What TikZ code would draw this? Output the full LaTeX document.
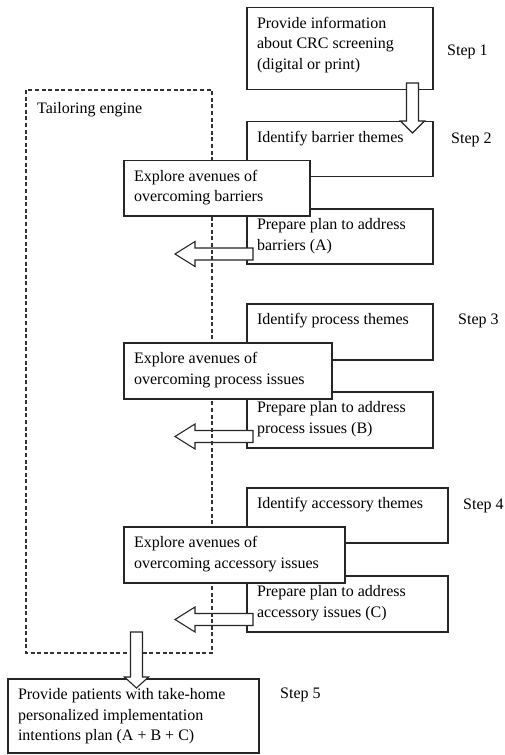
\documentclass[tikz,border=0pt]{standalone}
\usepackage{fontspec}
\setmainfont{Liberation Serif}
\usetikzlibrary{calc}
\tikzset{
  box/.style={draw=black!85, line width=1.1pt, fill=white, inner xsep=10pt, inner ysep=0pt, anchor=north west, outer sep=0pt},
  arr/.style={draw=black!85, line width=1.1pt, fill=white, line join=miter},
  engine/.style={draw=black!80, line width=1.1pt, dash pattern=on 4pt off 2.6pt},
  steplabel/.style={anchor=base west, inner sep=0pt, font=\fontsize{16}{20.5}\selectfont},
}
\newcommand\boxtext[3]{\parbox[c][#2pt][t]{#1pt}{\raggedright\fontsize{16}{20.5}\selectfont\rule{0pt}{20.5pt}#3}}
\newcommand\leftblockarrow[3]{% tail x, tip x, centre y
  \draw[arr] (#1,#3-6) -- (#2+20,#3-6) -- (#2+20,#3-12.5) -- (#2,#3) -- (#2+20,#3+12.5) -- (#2+20,#3+6) -- (#1,#3+6) -- cycle;}
\newcommand\downblockarrow[4]{% centre x, top y, head base y, tip y
  \draw[arr] (#1-6,#2) -- (#1-6,#3) -- (#1-12,#3) -- (#1,#4) -- (#1+12,#3) -- (#1+6,#3) -- (#1+6,#2) -- cycle;}
\begin{document}
\begin{tikzpicture}[x=1pt,y=-1pt]
\useasboundingbox (0,0) rectangle (505,755);
% main column boxes
\node[box] (b1) at (247,7.5) {\boxtext{166}{82}{Provide information\\about CRC screening\\(digital or print)}};
\node[box] (i1) at (247,121.5) {\boxtext{166}{55}{Identify barrier themes}};
\node[box] (p1) at (247,209) {\boxtext{166}{55}{Prepare plan to address\\barriers (A)}};
\node[box] (i2) at (247,304) {\boxtext{166}{56}{Identify process themes}};
\node[box] (p2) at (247,392) {\boxtext{166}{56}{Prepare plan to address\\process issues (B)}};
\node[box] (i3) at (247,488) {\boxtext{181}{55}{Identify accessory themes}};
\node[box] (p3) at (247,576) {\boxtext{181}{56}{Prepare plan to address\\accessory issues (C)}};
\node[box] (f) at (8,679) {\boxtext{231}{74}{Provide patients with take-home\\personalized implementation\\intentions plan (A + B + C)}};
% step labels
\node[steplabel] (s1) at (447,55) {Step 1};
\node[steplabel] (s2) at (451,143) {Step 2};
\node[steplabel] (s3) at (458,324) {Step 3};
\node[steplabel] (s4) at (463,509) {Step 4};
\node[steplabel] (s5) at (280,698) {Step 5};
% output arrows
\leftblockarrow{253}{175}{254}
\leftblockarrow{253}{175}{436.5}
\leftblockarrow{253}{175}{619.5}
% tailoring engine
\draw[engine] (26,90) rectangle (212,653);
\node[steplabel] (te) at (37,113) {Tailoring engine};
% explore boxes
\node[box] (e1) at (124,160.5) {\boxtext{166}{55.5}{Explore avenues of\\overcoming barriers}};
\node[box] (e2) at (124,343) {\boxtext{188}{56}{Explore avenues of\\overcoming process issues}};
\node[box] (e3) at (124,527) {\boxtext{201}{56}{Explore avenues of\\overcoming accessory issues}};
% down arrows
\downblockarrow{412.5}{83}{121}{133}
\downblockarrow{136.5}{632}{677}{688}
\end{tikzpicture}
\end{document}
